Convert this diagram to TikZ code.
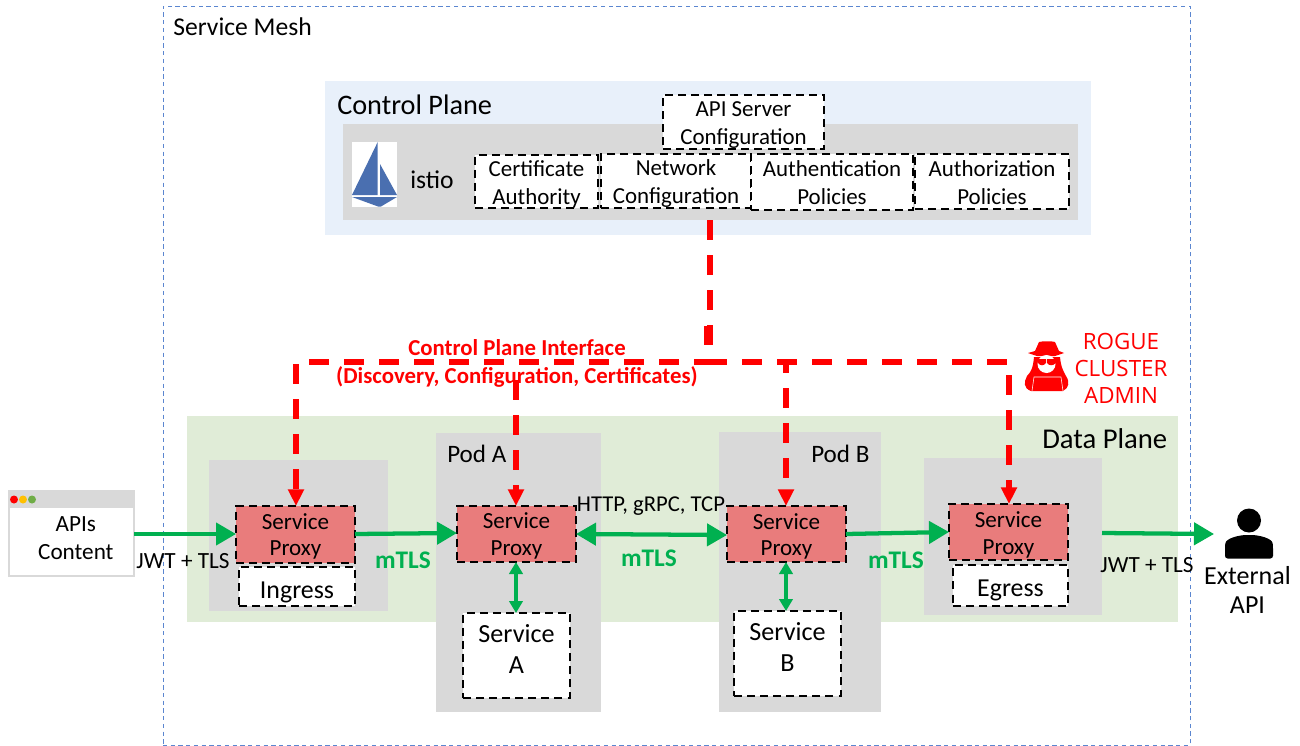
\documentclass[tikz,border=0pt]{standalone}
\usepackage{fontspec}
\setmainfont{Carlito}
\newfontfamily\roguefont{Open Sans}
\usetikzlibrary{arrows.meta,calc}
\definecolor{meshblue}{HTML}{5B86D0}
\definecolor{cpblue}{HTML}{E8F0FA}
\definecolor{pgray}{HTML}{D9D9D9}
\definecolor{dpgreen}{HTML}{E0ECD7}
\definecolor{proxyred}{HTML}{E97C7C}
\definecolor{flowgreen}{HTML}{00B050}
\definecolor{sailblue}{HTML}{4A6FB0}
\definecolor{dotorange}{HTML}{FFC000}
\definecolor{dotgreen}{HTML}{70AD47}
\tikzset{
  dbox/.style={draw=black,fill=white,line width=1.8pt,dash pattern=on 6pt off 3.8pt,align=center,inner sep=0pt,outer sep=0pt,font=\fontsize{17.2}{21}\selectfont},
  proxy/.style={dbox,fill=proxyred,font=\fontsize{17.3}{20}\selectfont},
  lbl/.style={inner sep=0pt,align=center},
  redflow/.style={draw=red,line width=4.1pt,dash pattern=on 15pt off 11.25pt},
  redtip/.style={-{Triangle[length=12.5pt,width=11.5pt,fill=red,color=red]}},
  gflow/.style={draw=flowgreen,line width=3.2pt,-{Triangle[length=15pt,width=16.5pt,fill=flowgreen,color=flowgreen]}},
  gboth/.style={draw=flowgreen,line width=3.2pt,{Triangle[length=15pt,width=16.5pt,fill=flowgreen,color=flowgreen]}-{Triangle[length=15pt,width=16.5pt,fill=flowgreen,color=flowgreen]}},
  gvert/.style={draw=flowgreen,line width=2.6pt,{Triangle[length=9pt,width=10pt,fill=flowgreen,color=flowgreen]}-{Triangle[length=9pt,width=10pt,fill=flowgreen,color=flowgreen]}},
}
\newcommand{\bx}[6]{%
  \node[#2,minimum width=#5pt*0.75-#3pt*0.75,minimum height=#6pt*0.75-#4pt*0.75,anchor=north west] (#1) at (#3,#4)}
\newcommand{\tp}[1]{\rule{0pt}{#1pt}}
\begin{document}
\begin{tikzpicture}[x=0.75pt,y=-0.75pt]
\useasboundingbox (0,0) rectangle (1300,746);
\fill[white] (0,0) rectangle (1300,746);
% mesh
\bx{mesh}{draw=meshblue,line width=0.75pt,dash pattern=on 3.2pt off 2.6pt,inner sep=0pt,outer sep=0pt}{163}{6}{1190}{745}{};
\node[lbl,anchor=west,font=\fontsize{19.2}{22}\selectfont] (meshl) at (173,27) {Service Mesh};
% control plane
\bx{cp}{fill=cpblue,inner sep=0pt,outer sep=0pt}{325}{81}{1091}{235}{};
\bx{cpg}{fill=pgray,inner sep=0pt,outer sep=0pt}{343}{124}{1078}{220}{};
\node[lbl,anchor=west,font=\fontsize{21.2}{24}\selectfont] (cpl) at (337,105) {Control Plane};
% logo
\bx{logo}{fill=white,inner sep=0pt,outer sep=0pt}{352}{142}{397}{207}{};
\fill[sailblue] (377.7,142) -- (352,195) -- (377.7,195) -- cycle;
\fill[sailblue] (380,164) -- (397,195) -- (380,195) -- cycle;
\fill[sailblue] (352,197) -- (397,197) -- (381,206.5) -- (378,206.5) -- cycle;
\node[lbl,font=\fontsize{19.2}{22}\selectfont] (istio) at (432,180) {istio};
\bx{api}{dbox}{663}{95}{824}{149}{\tp{16}API Server\\Configuration};
\bx{ca}{dbox}{475}{155}{598}{208}{\tp{16}Certificate\\Authority};
\bx{net}{dbox}{601}{154}{751}{208}{\tp{15}Network\\Configuration};
\bx{authn}{dbox}{751}{154}{913}{210}{\tp{13.5}Authentication\\Policies};
\bx{authz}{dbox}{915}{154}{1069}{209}{\tp{13.5}Authorization\\Policies};
% data plane
\bx{dp}{fill=dpgreen,inner sep=0pt,outer sep=0pt}{187}{416}{1178}{622}{};
\node[lbl,anchor=west,font=\fontsize{21.5}{24}\selectfont] (dpl) at (1042,439) {Data Plane};
\bx{ing}{fill=pgray,inner sep=0pt,outer sep=0pt}{209}{460}{388}{611}{};
\bx{poda}{fill=pgray,inner sep=0pt,outer sep=0pt}{436}{433}{601}{712}{};
\bx{podb}{fill=pgray,inner sep=0pt,outer sep=0pt}{719}{432}{881}{712}{};
\bx{egr}{fill=pgray,inner sep=0pt,outer sep=0pt}{924}{458}{1102}{615}{};
\node[lbl,anchor=west,font=\fontsize{18.8}{21}\selectfont] (podal) at (447,454) {Pod A};
\node[lbl,anchor=west,font=\fontsize{18.8}{21}\selectfont] (podbl) at (811,454) {Pod B};
% proxies
\bx{p1}{proxy}{236}{506}{355}{563}{\tp{15}Service\\Proxy};
\bx{p2}{proxy}{457}{506}{576}{562}{\tp{15}Service\\Proxy};
\bx{p3}{proxy}{727}{506}{846}{562}{\tp{15.5}Service\\Proxy};
\bx{p4}{proxy}{949}{504}{1068}{560}{\tp{16.5}Service\\Proxy};
\bx{ingb}{dbox,font=\fontsize{19.4}{22}\selectfont}{239}{567}{355}{606}{\tp{21.5}Ingress};
\bx{egb}{dbox,font=\fontsize{19.4}{22}\selectfont}{953}{565}{1068}{606}{\tp{20}Egress};
\bx{sa}{dbox,font=\fontsize{19.6}{23.2}\selectfont}{463}{613}{570}{698}{Service\\A\\[-14pt]\mbox{}};
\bx{sb}{dbox,font=\fontsize{19.6}{23.2}\selectfont}{734}{611}{841}{696}{Service\\B\\[-14pt]\mbox{}};
% browser
\bx{br}{draw=pgray,fill=white,line width=1.2pt,inner sep=0pt,outer sep=0pt,align=center,font=\fontsize{17.4}{21}\selectfont}{9}{491}{134}{576}{\hspace*{6.5pt}\tp{17.5}APIs\\\hspace*{6.5pt}Content};
\fill[pgray] (9,491) rectangle (134,508);
\fill[red] (14,499.5) circle[radius=4];
\fill[dotorange] (23,499.5) circle[radius=4];
\fill[dotgreen] (32,499.5) circle[radius=4];
% red connectors
\coordinate (tap) at (710,220);
\coordinate (bus) at (707,362);
\coordinate (busl) at (309,362);
\coordinate (busr) at (1007,362);
\coordinate (stub) at (707,326);
\draw[redflow] (tap) -- (710,362);
\draw[redflow,dash pattern=on 14pt off 1pt] (stub) -- (707,345);
\draw[redflow] (busl) -- (bus);
\draw[redflow] (bus) -- (busr);
\draw[redflow,redtip] (296,364) -- (p1.north -| 296,0);
\draw[redflow,redtip] (516,380) -- (p2.north -| 516,0);
\draw[redflow,dash phase=6.75pt,redtip] (786,362) -- (p3.north -| 786,0);
\draw[redflow,redtip] (1009,375) -- (p4.north -| 1009,0);
% green connectors
\draw[gflow] (br.east |- 0,534) -- (p1.west |- 0,534);
\draw[gflow] (p1.east |- 0,534) -- (p2.west |- 0,533);
\draw[gboth] (p2.east |- 0,534) -- (p3.west |- 0,535);
\draw[gflow] (p3.east |- 0,534) -- (p4.west |- 0,532);
\coordinate (extp) at (1214,534);
\draw[gflow] (egr.east |- 0,533) -- (extp);
\draw[gvert] (p2.south -| 516,0) -- (sa.north -| 516,0);
\draw[gvert] (p3.south -| 786,0) -- (sb.north -| 786,0);
% labels on connectors
\node[lbl,font=\fontsize{17.4}{20}\selectfont] (j1) at (183,561) {JWT + TLS};
\node[lbl,font=\fontsize{17.4}{20}\selectfont] (j2) at (1147,565) {JWT + TLS};
\node[lbl,font=\bfseries\fontsize{19}{22}\selectfont,text=flowgreen] (m1) at (403,560) {mTLS};
\node[lbl,font=\bfseries\fontsize{19}{22}\selectfont,text=flowgreen] (m2) at (649,558) {mTLS};
\node[lbl,font=\bfseries\fontsize{19}{22}\selectfont,text=flowgreen] (m3) at (896,560) {mTLS};
\node[lbl,font=\fontsize{17}{20}\selectfont] (http) at (651,506) {HTTP, gRPC, TCP};
\node[lbl,font=\bfseries\fontsize{17.1}{21}\selectfont,text=red] (cpi) at (517,363) {Control Plane Interface\\(Discovery, Configuration, Certificates)};
\node[lbl,font=\roguefont\fontsize{16.8}{20.2}\selectfont,text=red] (rogue) at (1121,368) {ROGUE\\CLUSTER\\ADMIN};
\node[lbl,font=\fontsize{19.5}{22}\selectfont] (ext) at (1247.5,590) {External\\API};
% person
\fill[black] (1249,520.5) circle[radius=12];
\fill[black,rounded corners=2pt] (1225,558.5) -- (1225,546) .. controls (1226,538) and (1240,535) .. (1249,535) .. controls (1258,535) and (1272,538) .. (1273,546) -- (1273,558.5) -- cycle;
% rogue icon
\fill[red] (1028,353) -- (1035,351) -- (1039,342) .. controls (1042,341) and (1052,341) .. (1055,342) -- (1059,351) -- (1064,353) -- (1055,356) -- (1037,356) -- cycle;
\fill[red] (1031,391) .. controls (1023,388) and (1024,382) .. (1027,376) .. controls (1031,372) and (1033,368) .. (1034,357) -- (1060,357) .. controls (1061,368) and (1064,372) .. (1066,376) .. controls (1070,382) and (1069,388) .. (1063,391) -- cycle;
\fill[white] (1046.5,364) circle[radius=9];
\fill[red] (1037,359) -- (1046,359) -- (1046,363) .. controls (1044,366) and (1040,366) .. (1038,363) -- cycle;
\fill[red] (1047,359) -- (1056,359) -- (1056,363) .. controls (1053,366) and (1049,366) .. (1047,363) -- cycle;
\draw[white,line width=0.4pt] (1032,391) -- (1034,377) -- (1061,377) -- (1063,391);
\end{tikzpicture}
\end{document}
